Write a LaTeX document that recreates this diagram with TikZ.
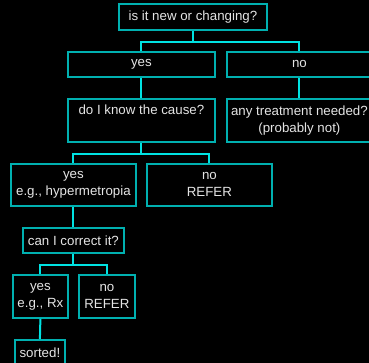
\documentclass[tikz,border=0pt]{standalone}
\usepackage{fontspec}
\setmainfont{Liberation Sans}
\definecolor{boxline}{RGB}{0,176,176}
\definecolor{wire}{RGB}{0,226,226}
\definecolor{ink}{RGB}{228,228,228}

\begin{document}
\begin{tikzpicture}[x=1pt, y=-1pt,
  box/.style={draw=boxline, line width=1.8pt, text=ink, align=center,
    anchor=north west, inner sep=1pt, font=\fontsize{13.3}{17}\selectfont},
  link/.style={draw=wire, line width=2pt}]
  \fill[black] (0,0) rectangle (369,363);
  \useasboundingbox (0,0) rectangle (369,363);

  \node[box, minimum width=148pt, minimum height=26pt] (new) at (118,3) {is it new or changing?};
  \node[box, minimum width=147pt, minimum height=25pt] (yes) at (67,51) {yes};
  \node[box, minimum width=145pt, minimum height=25pt] (no) at (226,51) {no};
  \node[box, minimum width=147pt, minimum height=43pt] (cause) at (67,98) {do I know the cause?\\\strut};
  \node[box, minimum width=145pt, minimum height=43pt] (treat) at (226,98) {any treatment needed?\\(probably not)};
  \node[box, minimum width=125pt, minimum height=42pt] (known) at (10,163) {yes\\e.g., hypermetropia};
  \node[box, minimum width=125pt, minimum height=42pt] (refer) at (146,163) {no\\REFER};
  \node[box, minimum width=101pt, minimum height=25pt] (correct) at (22,227) {can I correct it?};
  \node[box, minimum width=55pt, minimum height=43pt] (rx) at (12,274) {yes\\e.g., Rx};
  \node[box, minimum width=56pt, minimum height=43pt] (referb) at (78,274) {no\\REFER};
  \node[box, minimum width=50pt, minimum height=26pt] (sorted) at (14,339) {sorted!};

  % tree links
  \draw[link] (new.south) -- ++(0,11) -| (yes.north);
  \draw[link] (new.south) -- ++(0,11) -| (no.north);
  \draw[link] (yes.south) -- (cause.north);
  \draw[link] (no.south) -- (treat.north);
  \draw[link] (cause.south) -- ++(0,11) -| (known.north);
  \draw[link] (cause.south) -- ++(0,11) -| (refer.north);
  \draw[link] (known.south) -- (correct.north);
  \draw[link] (correct.south) -- ++(0,11) -| (rx.north);
  \draw[link] (correct.south) -- ++(0,11) -| (referb.north);
  \draw[link] (rx.south) -- (sorted.north);
\end{tikzpicture}
\end{document}
